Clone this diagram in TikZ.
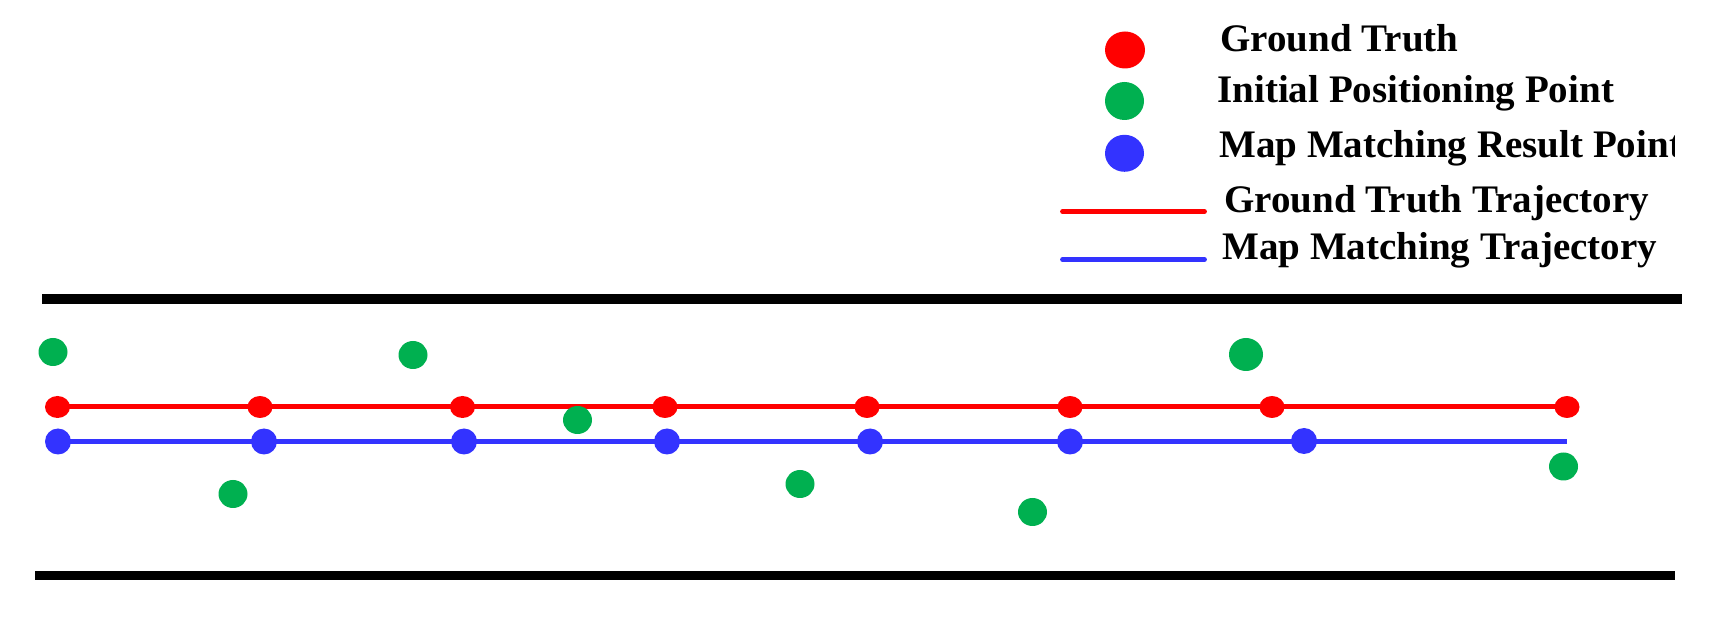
\documentclass[tikz,border=0pt]{standalone}
\usepackage{fontspec}
\setmainfont{Liberation Serif}
\usetikzlibrary{shapes.geometric,backgrounds}
\definecolor{gtred}{RGB}{255,0,0}
\definecolor{ipgreen}{RGB}{0,176,80}
\definecolor{mmblue}{RGB}{51,51,255}
\begin{document}
\begin{tikzpicture}[x=0.5pt,y=-0.5pt,
  gtdot/.style={ellipse,fill=gtred,inner sep=0pt,minimum width=12.5pt,minimum height=11pt},
  mmdot/.style={ellipse,fill=mmblue,inner sep=0pt,minimum width=13pt,minimum height=13pt},
  ipdot/.style={ellipse,fill=ipgreen,inner sep=0pt,minimum width=14.5pt,minimum height=14pt},
  bigip/.style={ipdot,minimum width=17pt,minimum height=16.5pt},
  legdot/.style={ellipse,inner sep=0pt,minimum width=20pt,minimum height=18.5pt},
  legtext/.style={anchor=base west,inner sep=0pt,font=\fontsize{19.5}{23}\selectfont\bfseries},
  legline/.style={line width=2.4pt,line cap=round},
  trajline/.style={line width=2.5pt},
  roadedge/.style={line width=5pt,black}]
\useasboundingbox (0,0) rectangle (1725,625);

% road edges
\coordinate (tA) at (42,299);
\coordinate (tB) at (1682,299);
\coordinate (bA) at (35,575.5);
\coordinate (bB) at (1675,575.5);
\draw[roadedge] (tA) -- (tB);
\draw[roadedge,line width=4.5pt] (bA) -- (bB);

% ground truth points
\node[gtdot] (r1) at (57.5,407) {};
\node[gtdot] (r2) at (260,407) {};
\node[gtdot] (r3) at (462.5,407) {};
\node[gtdot] (r4) at (665,407) {};
\node[gtdot] (r5) at (867,407) {};
\node[gtdot] (r6) at (1070,407) {};
\node[gtdot] (r7) at (1272,407) {};
\node[gtdot] (r8) at (1567,407) {};

% map matching points
\node[mmdot] (b1) at (58,441.5) {};
\node[mmdot] (b2) at (264,441.5) {};
\node[mmdot] (b3) at (464,441.5) {};
\node[mmdot] (b4) at (667,441.5) {};
\node[mmdot] (b5) at (870,441.5) {};
\node[mmdot] (b6) at (1070,441.5) {};
\node[mmdot] (b7) at (1304,441) {};
\coordinate (bend) at (1567,441.5);

% initial positioning points
\node[ipdot] (g1) at (53,352) {};
\node[ipdot] (g2) at (233,494) {};
\node[ipdot] (g3) at (413,355) {};
\node[ipdot] (g4) at (577.5,420) {};
\node[ipdot] (g5) at (800,484) {};
\node[ipdot] (g6) at (1032.5,512) {};
\node[bigip] (g7) at (1246,354.5) {};
\node[ipdot] (g8) at (1563.5,466.5) {};

\begin{scope}[on background layer]
  \draw[trajline,gtred] (r1.center) -- (r8.center);
  \draw[trajline,mmblue] (b1.center) -- (bend);
\end{scope}

% legend
\node[legdot,fill=gtred] (lr) at (1125,50) {};
\node[legdot,fill=ipgreen,minimum height=19pt,minimum width=19.5pt] (lg) at (1124.5,101) {};
\node[legdot,fill=mmblue,minimum width=19.5pt] (lb) at (1124.5,153.3) {};
\coordinate (lrA) at (1062.5,211.5);
\coordinate (lrB) at (1204.5,211.5);
\coordinate (lbA) at (1062.5,259.5);
\coordinate (lbB) at (1204.5,259.5);
\draw[legline,gtred] (lrA) -- (lrB);
\draw[legline,mmblue] (lbA) -- (lbB);

\node[legtext] (t1) at (1220,51.7) {Ground Truth};
\node[legtext] (t2) at (1217,103) {Initial Positioning Point};
\begin{scope}
  \clip (0,0) rectangle (1674,625);
  \node[legtext] (t3) at (1219,157.7) {Map Matching Result Point};
\end{scope}
\node[legtext] (t4) at (1224,212.3) {Ground Truth Trajectory};
\node[legtext] (t5) at (1222,259.3) {Map Matching Trajectory};
\end{tikzpicture}
\end{document}
